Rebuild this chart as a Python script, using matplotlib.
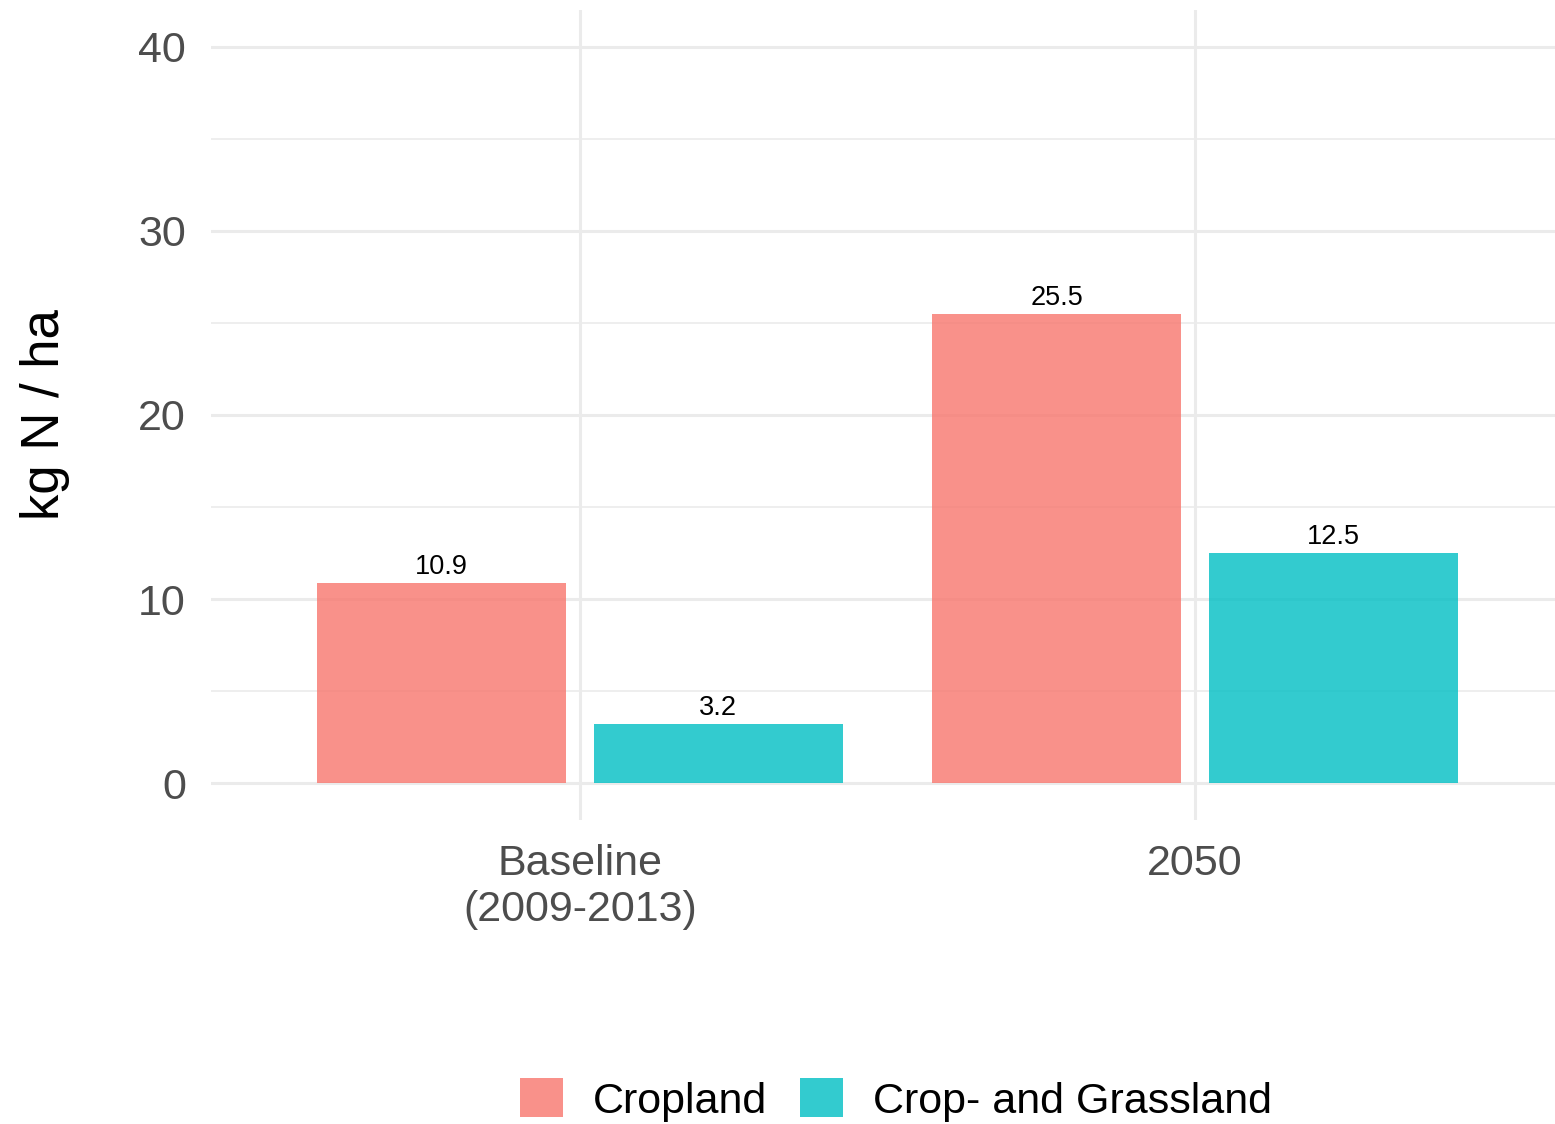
import numpy as np
import matplotlib
matplotlib.use("Agg")
import matplotlib.pyplot as plt
from matplotlib.patches import Patch

plt.rcParams["font.family"] = ["Liberation Sans", "DejaVu Sans"]

periods = ["Baseline\n(2009-2013)", "2050"]
series = ["Cropland", "Crop- and Grassland"]
cropland = [10.9, 25.5]
crop_grass = [3.2, 12.5]
colors = ["#F8766D", "#00BFC4"]

W, H = 1555, 1124
fig = plt.figure(figsize=(W / 100, H / 100), dpi=100)
ax = fig.add_axes([211 / W, 1 - 820 / H, 1353 / W, 810 / H])

x = np.arange(1, len(periods) + 1)
offset, width = 0.225, 0.405
for vals, name, col, sgn in [(cropland, series[0], colors[0], -1),
                             (crop_grass, series[1], colors[1], 1)]:
    bars = ax.bar(x + sgn * offset, vals, width, color=col, alpha=0.8,
                  linewidth=0, zorder=2, label=name)
    for b, v in zip(bars, vals):
        ax.annotate(f"{v:.1f}", (b.get_x() + b.get_width() / 2, v),
                    xytext=(0, 2), textcoords="offset points",
                    ha="center", va="bottom", fontsize=19.5, color="black",
                    zorder=3)

ax.set_xlim(0.4, 2.6)
ax.set_ylim(-2, 42)
ax.set_yticks([0, 10, 20, 30, 40])
ax.set_yticks([5, 15, 25, 35], minor=True)
ax.set_xticks(x)
ax.set_xticklabels(periods)
ax.grid(which="major", color="#EBEBEB", linewidth=2.2, zorder=0)
ax.grid(which="minor", axis="y", color="#EBEBEB", linewidth=1.2, zorder=0)
ax.tick_params(which="both", length=0)
ax.tick_params(axis="y", pad=18, labelsize=31, labelcolor="#4D4D4D")
ax.tick_params(axis="x", pad=17, labelsize=31, labelcolor="#4D4D4D")
for s in ax.spines.values():
    s.set_visible(False)
ax.set_ylabel("kg N / ha", fontsize=38, color="black")
ax.yaxis.set_label_coords(-0.104, 0.5)

handles = [Patch(facecolor=c, alpha=0.8, edgecolor="none", label=n)
           for c, n in zip(colors, series)]
fig.legend(handles=handles, loc="center", ncol=2,
           bbox_to_anchor=(896 / W, 1 - 1100 / H), frameon=False,
           fontsize=31, handlelength=1.0, handleheight=1.0,
           handletextpad=0.7, columnspacing=0.75)

fig.savefig("out.png", dpi=100)
